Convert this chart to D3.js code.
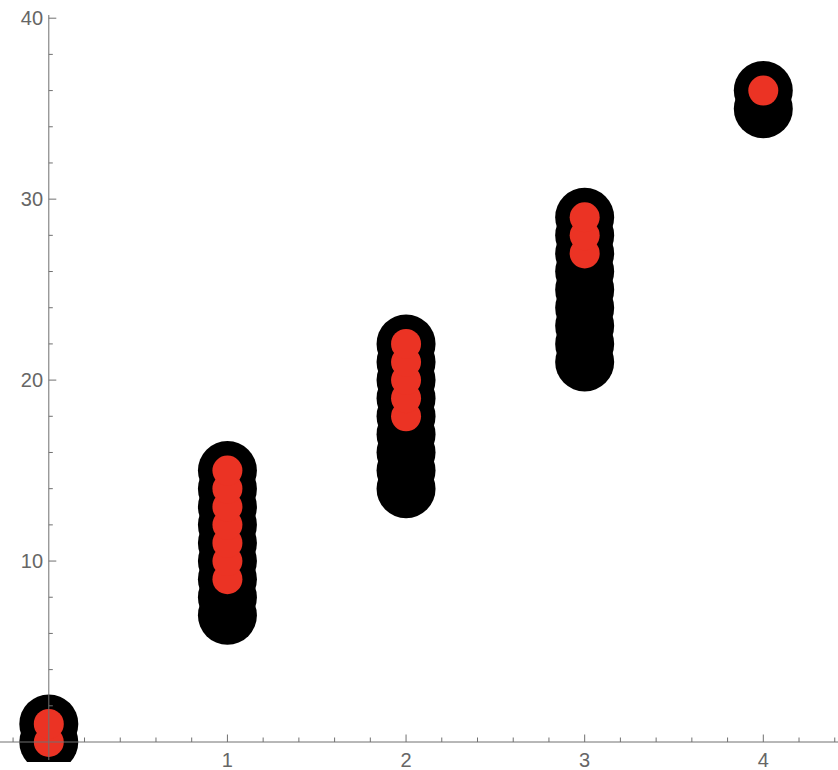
<!DOCTYPE html>
<html><head><meta charset="utf-8">
<script src="https://cdn.jsdelivr.net/npm/d3@7"></script>
<style>html,body{margin:0;padding:0;background:#fff;}svg{display:block;}</style>
</head><body>
<script>
// Data
const blackX = [0,0, 1,1,1,1,1,1,1,1,1, 2,2,2,2,2,2,2,2,2, 3,3,3,3,3,3,3,3,3, 4,4];
const blackY = [0,1, 7,8,9,10,11,12,13,14,15, 14,15,16,17,18,19,20,21,22, 21,22,23,24,25,26,27,28,29, 35,36];
const redX = [0,0, 1,1,1,1,1,1,1, 2,2,2,2,2, 3,3,3, 4];
const redY = [0,1, 9,10,11,12,13,14,15, 18,19,20,21,22, 27,28,29, 36];
const xTicks = [1,2,3,4];
const yTicks = [10,20,30,40];

const W = 838, H = 770;
const svg = d3.select("body").append("svg").attr("width", W).attr("height", H);

const x = d3.scaleLinear().domain([0,4]).range([48.8, 763.3]);
const y = d3.scaleLinear().domain([0,40]).range([742, 18.2]);

const axisColor = "#707070";
const textColor = "#666666";

svg.append("defs").append("clipPath").attr("id","clip")
  .append("rect").attr("x",0).attr("y",0).attr("width",W).attr("height",762);

const pts = svg.append("g").attr("clip-path","url(#clip)");
pts.selectAll("circle.b").data(blackX.map((d,i)=>[d,blackY[i]])).join("circle")
  .attr("class","b").attr("cx",d=>x(d[0])).attr("cy",d=>y(d[1])).attr("r",29.5).attr("fill","#000");
pts.selectAll("circle.r").data(redX.map((d,i)=>[d,redY[i]])).join("circle")
  .attr("class","r").attr("cx",d=>x(d[0])).attr("cy",d=>y(d[1])).attr("r",15).attr("fill","#EB3324");

// X axis
const gx = svg.append("g").attr("transform",`translate(0,${y(0)})`);
gx.append("line").attr("x1",0).attr("x2",W).attr("y1",0).attr("y2",0).attr("stroke",axisColor).attr("stroke-width",1);
const xMinor = d3.range(-1, 23).map(i=>i*0.2).filter(v=>Math.abs(v-Math.round(v))>1e-6 && x(v)>=0 && x(v)<=W);
gx.selectAll("line.xm").data(xMinor).join("line").attr("class","xm")
  .attr("x1",d=>x(d)).attr("x2",d=>x(d)).attr("y1",0).attr("y2",-4.5).attr("stroke",axisColor);
gx.selectAll("line.xM").data(xTicks).join("line").attr("class","xM")
  .attr("x1",d=>x(d)).attr("x2",d=>x(d)).attr("y1",0).attr("y2",-7.5).attr("stroke",axisColor);
gx.selectAll("text").data(xTicks).join("text")
  .attr("x",d=>x(d)).attr("y",25).attr("text-anchor","middle")
  .attr("font-family","Liberation Sans, Arial, sans-serif").attr("font-size",20).attr("fill",textColor)
  .text(d=>d);

// Y axis
const gy = svg.append("g").attr("transform",`translate(${x(0)},0)`);
gy.append("line").attr("x1",0).attr("x2",0).attr("y1",15).attr("y2",760).attr("stroke",axisColor).attr("stroke-width",1);
const yMinor = d3.range(1, 21).map(i=>i*2).filter(v=>v%10!==0);
gy.selectAll("line.ym").data(yMinor).join("line").attr("class","ym")
  .attr("x1",0).attr("x2",4).attr("y1",d=>y(d)).attr("y2",d=>y(d)).attr("stroke",axisColor);
gy.selectAll("line.yM").data(yTicks).join("line").attr("class","yM")
  .attr("x1",0).attr("x2",7.5).attr("y1",d=>y(d)).attr("y2",d=>y(d)).attr("stroke",axisColor);
gy.selectAll("text").data(yTicks).join("text")
  .attr("x",-5.7).attr("y",d=>y(d)).attr("dy","0.36em").attr("text-anchor","end")
  .attr("font-family","Liberation Sans, Arial, sans-serif").attr("font-size",20).attr("fill",textColor)
  .text(d=>d);
</script>
</body></html>
